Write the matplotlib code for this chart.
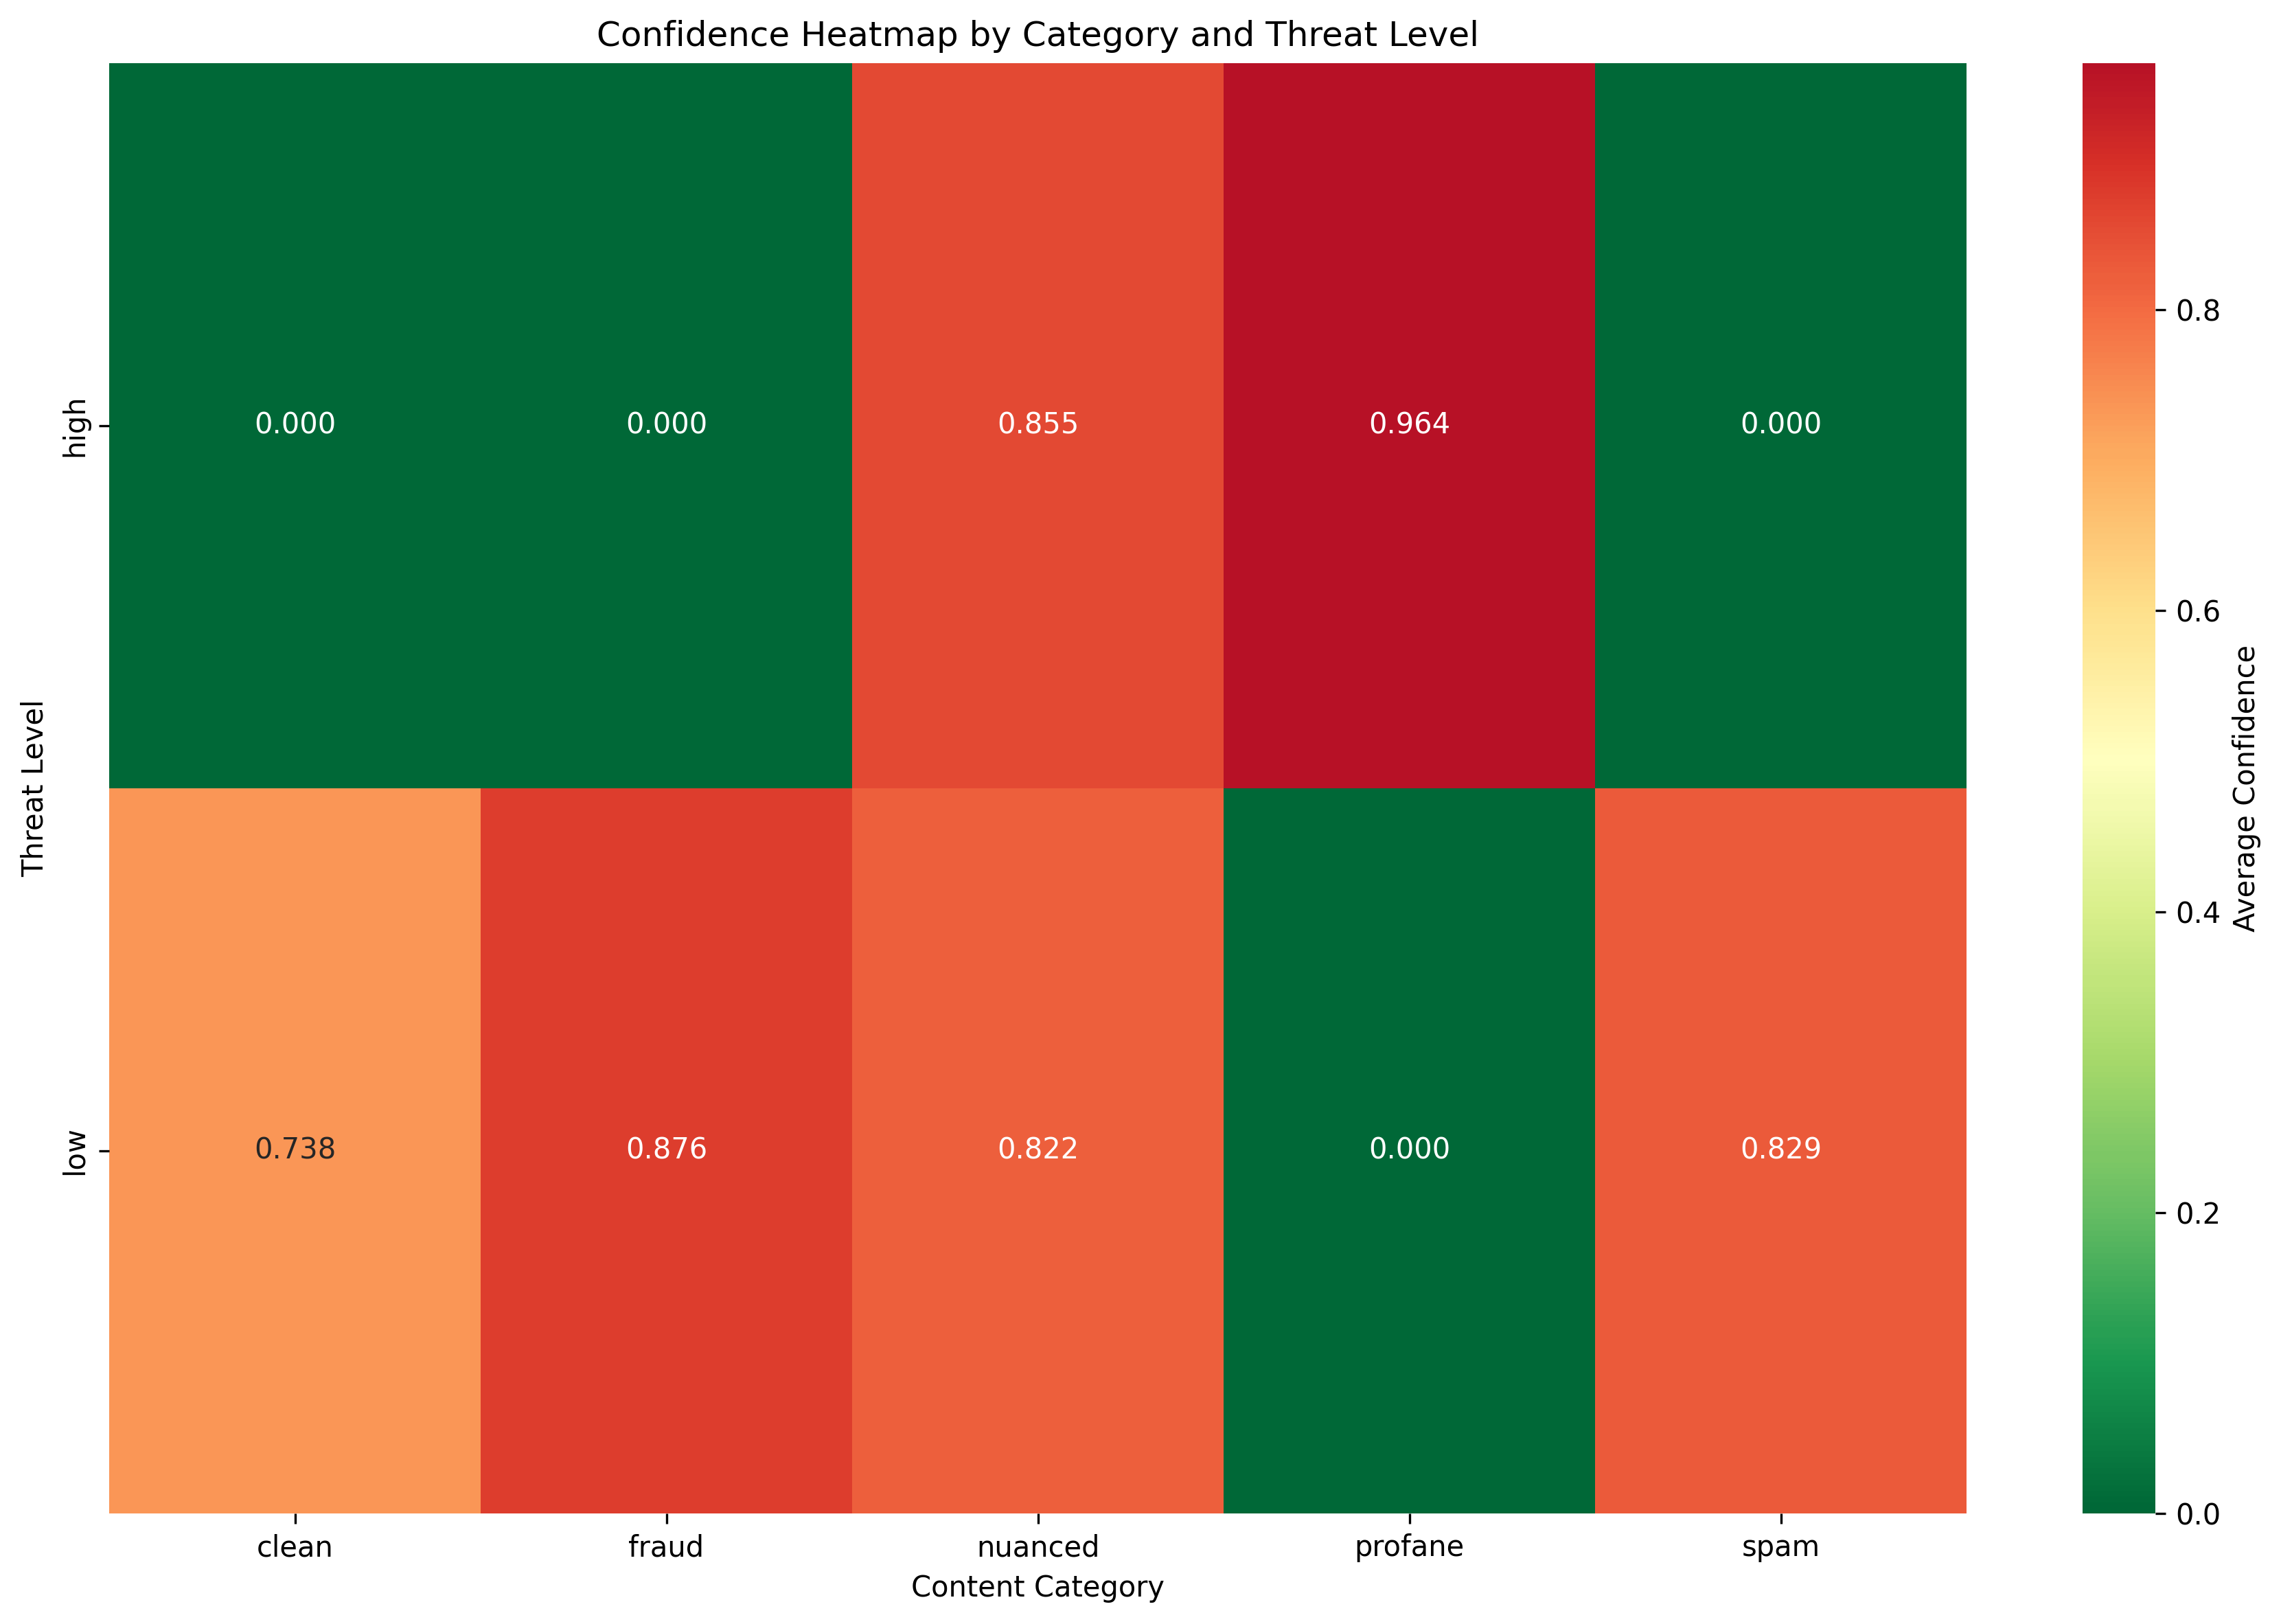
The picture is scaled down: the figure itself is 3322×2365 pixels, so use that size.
import matplotlib
matplotlib.use("Agg")
import matplotlib.pyplot as plt
import numpy as np
import pandas as pd
import seaborn as sns

categories = ["clean", "fraud", "nuanced", "profane", "spam"]
threat_levels = ["high", "low"]
high_values = [0.000, 0.000, 0.855, 0.964, 0.000]
low_values = [0.738, 0.876, 0.822, 0.000, 0.829]

df = pd.DataFrame([high_values, low_values], index=threat_levels, columns=categories)

W, H = 3322, 2365
fig = plt.figure(figsize=(W / 300, H / 300), dpi=300)
ax = fig.add_axes([159 / W, 1 - 2204 / H, (2864 - 159) / W, (2204 - 92) / H])
cax = fig.add_axes([3033 / W, 1 - 2204 / H, (3139 - 3033) / W, (2204 - 92) / H])

sns.heatmap(df, annot=True, fmt=".3f", cmap="RdYlGn_r", center=0.5, ax=ax, cbar_ax=cax,
            cbar_kws={"label": "Average Confidence"})
ax.set_title("Confidence Heatmap by Category and Threat Level")
ax.set_xlabel("Content Category")
ax.set_ylabel("Threat Level")

fig.savefig("out.png", dpi=300)
